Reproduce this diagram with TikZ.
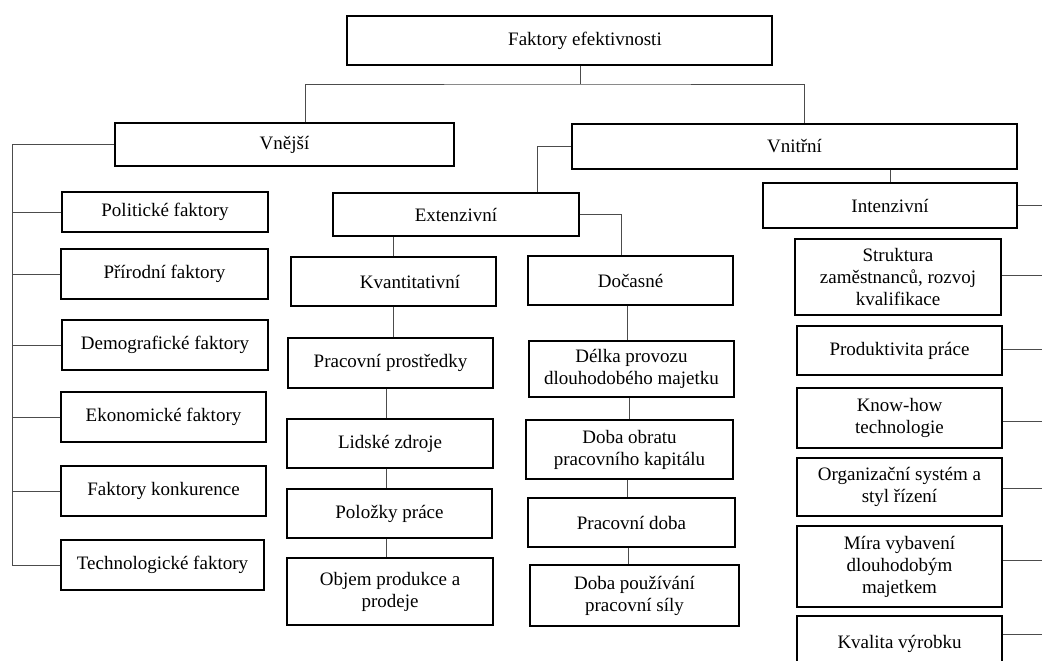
\documentclass[tikz,border=0pt]{standalone}
\usepackage{fontspec}
\setmainfont{Liberation Serif}
\begin{document}
\begin{tikzpicture}[x=1pt,y=-1pt,
  box/.style={draw,line width=1.4pt,inner sep=2pt,align=center,font=\fontsize{19}{22}\selectfont},
  conn/.style={draw=black!70,line width=0.9pt}]
  \useasboundingbox (0,0) rectangle (1042,661);
  \clip (0,0) rectangle (1042,661);
  % top level
  \node[box,minimum width=425pt,minimum height=49pt] (top) at (559.5,40.5) {\hspace*{51pt}Faktory efektivnosti};
  \node[box,minimum width=339pt,minimum height=43pt] (vnejsi) at (284.5,144.5) {Vnější};
  \node[box,minimum width=445pt,minimum height=45pt] (vnitrni) at (794.5,146.5) {Vnitřní};
  % vnejsi
  \node[box,minimum width=206pt,minimum height=40pt] (polit) at (165,212) {Politické faktory};
  \node[box,minimum width=207pt,minimum height=50pt] (prir) at (164.5,274) {Přírodní faktory};
  \node[box,minimum width=206pt,minimum height=50pt] (demo) at (165,345) {Demografické faktory};
  \node[box,minimum width=205pt,minimum height=50pt] (ekon) at (163.5,417) {Ekonomické faktory};
  \node[box,minimum width=205pt,minimum height=50pt] (konk) at (163.5,491) {Faktory konkurence};
  \node[box,minimum width=203pt,minimum height=50pt] (tech) at (162.5,565) {Technologické faktory};
  % extenzivni
  \node[box,minimum width=246pt,minimum height=43pt] (ext) at (456,214.5) {Extenzivní};
  \node[box,minimum width=205pt,minimum height=49pt] (kvant) at (393.5,281.5) {\hspace*{33pt}Kvantitativní};
  \node[box,minimum width=205pt,minimum height=49pt] (doc) at (630.5,280.5) {Dočasné};
  \node[box,minimum width=205pt,minimum height=50pt] (prost) at (390.5,363) {Pracovní prostředky};
  \node[box,minimum width=206pt,minimum height=49pt] (lidske) at (390,443.5) {Lidské zdroje};
  \node[box,minimum width=205pt,minimum height=49pt] (polozky) at (389.5,513.5) {Položky práce};
  \node[box,minimum width=206pt,minimum height=67pt] (objem) at (390,591.5) {Objem produkce a\\prodeje};
  \node[box,minimum width=205pt,minimum height=56pt] (delka) at (631.5,369) {Délka provozu\\dlouhodobého majetku};
  \node[box,minimum width=207pt,minimum height=59pt] (obrat) at (629.5,449.5) {Doba obratu\\pracovního kapitálu};
  \node[box,minimum width=207pt,minimum height=49pt] (pdoba) at (631.5,522.5) {Pracovní doba};
  \node[box,minimum width=209pt,minimum height=61pt] (pouz) at (634.5,595.5) {Doba používání\\pracovní síly};
  % intenzivni
  \node[box,minimum width=254pt,minimum height=45pt] (int) at (890,205.5) {Intenzivní};
  \node[box,minimum width=206pt,minimum height=76pt] (strukt) at (898,277) {Struktura\\zaměstnanců, rozvoj\\kvalifikace};
  \node[box,minimum width=205pt,minimum height=49pt] (prod) at (899.5,350.5) {Produktivita práce};
  \node[box,minimum width=205pt,minimum height=60pt] (know) at (899.5,418) {Know-how\\technologie};
  \node[box,minimum width=205pt,minimum height=58pt] (org) at (899.5,487) {Organizační systém a\\styl řízení};
  \node[box,minimum width=205pt,minimum height=81pt] (mira) at (899.5,566.5) {Míra vybavení\\dlouhodobým\\majetkem};
  \node[box,minimum width=205pt,minimum height=56pt] (kval) at (899.5,644) {Kvalita výrobku};
  % junctions
  \coordinate (j1) at (580,84);
  \coordinate (lb) at (12,143);
  \coordinate (rb) at (1045,0);
  \draw[conn] (top.south -| j1) -- (j1);
  \draw[conn] ([xshift=20.5pt]vnejsi.north) |- (j1) -| ([xshift=9.5pt]vnitrni.north);
  % left bus
  \draw[conn] (vnejsi.west) -- (vnejsi.west -| lb) |- (tech.west);
  \foreach \n in {polit,prir,demo,ekon,konk}
    \draw[conn] (\n.west) -- (\n.west -| lb);
  % extenzivni
  \draw[conn] (vnitrni.west) -| ([xshift=81pt]ext.north);
  \draw[conn] (ext.east) -| ([xshift=-9.5pt]doc.north);
  \draw[conn] (kvant.north) -- (kvant.north |- ext.south);
  \draw[conn] (kvant.south) -- (kvant.south |- prost.north);
  \draw[conn] ([xshift=-4pt]lidske.north) -- ([xshift=-4pt]lidske.north |- prost.south);
  \draw[conn] ([xshift=-4pt]lidske.south) -- ([xshift=-4pt]lidske.south |- polozky.north);
  \draw[conn] ([xshift=-4pt]objem.north) -- ([xshift=-4pt]objem.north |- polozky.south);
  \draw[conn] ([xshift=-3pt]doc.south) -- ([xshift=-3pt]doc.south |- delka.north);
  \draw[conn] (obrat.north) -- (obrat.north |- delka.south);
  \draw[conn] ([xshift=-2pt]obrat.south) -- ([xshift=-2pt]obrat.south |- pdoba.north);
  \draw[conn] ([xshift=-3pt]pdoba.south) -- ([xshift=-3pt]pdoba.south |- pouz.north);
  % intenzivni
  \draw[conn] (int.north) -- (int.north |- vnitrni.south);
  \draw[conn] (int.east) -- (int.east -| rb);
  \foreach \n/\s in {strukt/2,prod/1.5,know/-3,org/-1,mira/6.5,kval/10}
    \draw[conn] ([yshift=\s pt]\n.east) -- ([yshift=\s pt]\n.east -| rb);
\end{tikzpicture}
\end{document}
